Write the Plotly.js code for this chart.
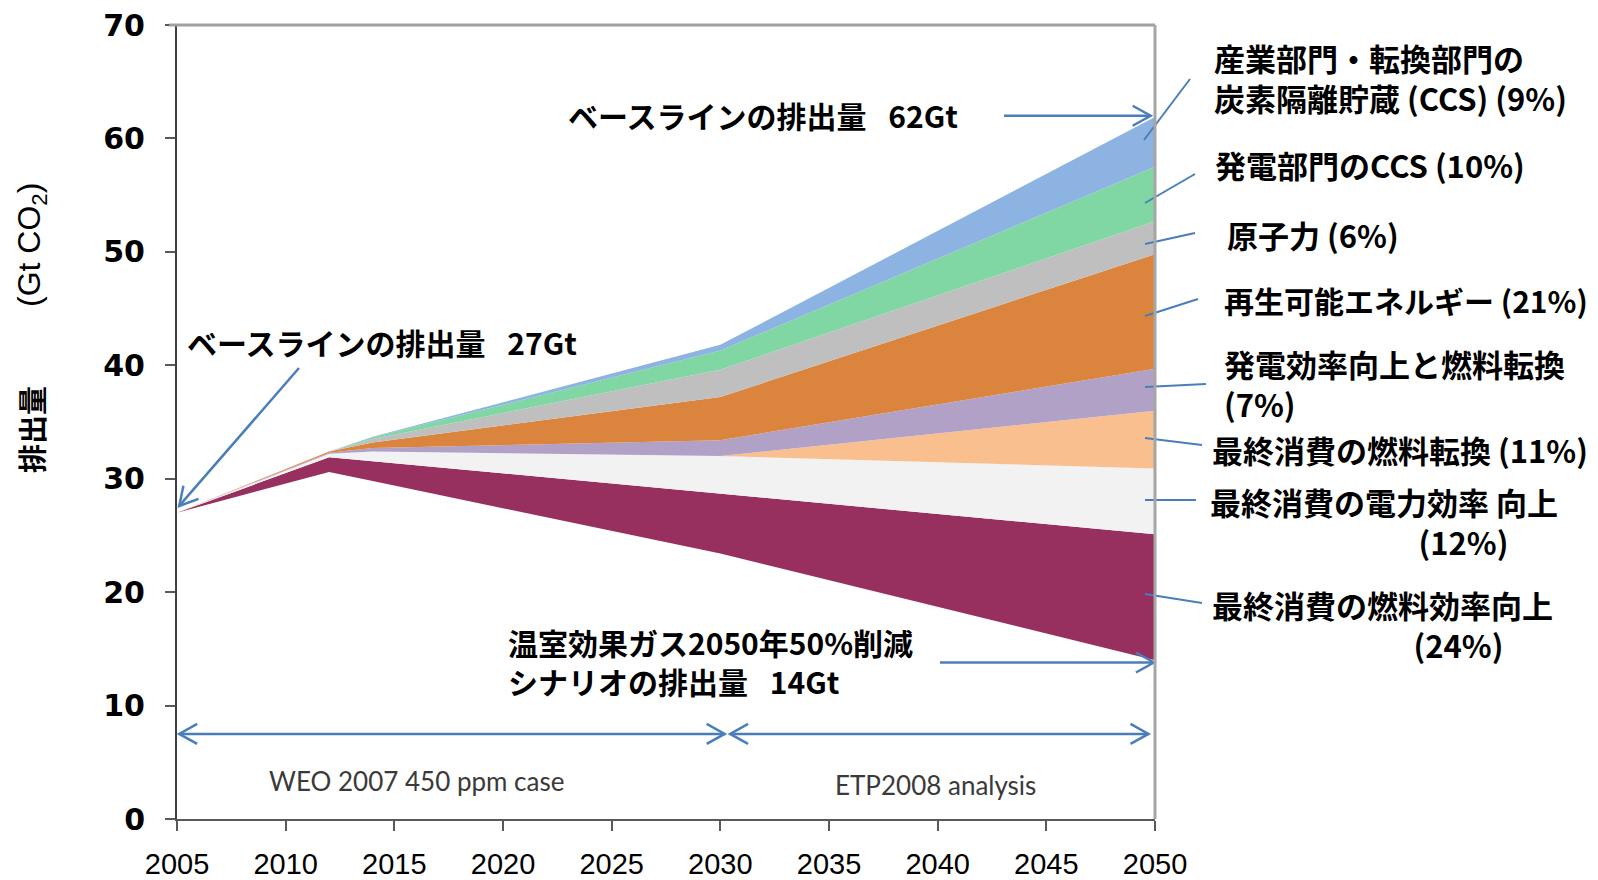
<!DOCTYPE html>
<html>
<head>
<meta charset="utf-8">
<script src="https://cdn.plot.ly/plotly-3.0.1.min.js"></script>
<style>
  html, body { margin: 0; padding: 0; background: #ffffff; }
  #chart { width: 1598px; height: 880px; }
</style>
</head>
<body>
<div id="chart"></div>
<script>
// Years at which the scenario paths change slope
const years = [2005, 2012, 2014, 2030, 2050];

// 50% reduction scenario (bottom edge of the wedges), Gt CO2
const scenario50 = [27.0, 30.6, 29.8, 23.4, 14.0];

// Wedge thicknesses, stacked from the scenario line up to the baseline (Gt CO2)
const endUseFuelEff    = [0, 1.3, 1.75, 5.3, 11.1];
const endUseElecEff    = [0, 0.3, 0.85, 3.3, 5.8];
const endUseFuelSwitch = [0, 0,   0,    0,   5.1];
const powerEffSwitch   = [0, 0.1, 0.3,  1.4, 3.7];
const renewables       = [0, 0.1, 0.5,  3.8, 10.1];
const nuclear          = [0, 0,   0.3,  2.4, 2.9];
const ccsPower         = [0, 0,   0.15, 1.7, 4.8];
const ccsIndustry      = [0, 0,   0.05, 0.5, 4.4];

const xTicks = [2005, 2010, 2015, 2020, 2025, 2030, 2035, 2040, 2045, 2050];
const yTicks = [0, 10, 20, 30, 40, 50, 60, 70];

const wedges = [
  { name: '最終消費の燃料効率向上', values: endUseFuelEff, color: '#98305F' },
  { name: '最終消費の電力効率向上', values: endUseElecEff, color: '#F2F2F2' },
  { name: '最終消費の燃料転換', values: endUseFuelSwitch, color: '#F9BF8F' },
  { name: '発電効率向上と燃料転換', values: powerEffSwitch, color: '#B2A1C7' },
  { name: '再生可能エネルギー', values: renewables, color: '#DB843D' },
  { name: '原子力', values: nuclear, color: '#BFBFBF' },
  { name: '発電部門のCCS', values: ccsPower, color: '#80D7A4' },
  { name: '産業部門・転換部門のCCS', values: ccsIndustry, color: '#8DB3E2' }
];

const traces = [{
  x: years, y: scenario50, type: 'scatter', mode: 'lines',
  stackgroup: 'abatement', line: { width: 0 },
  fillcolor: 'rgba(0,0,0,0)', hoverinfo: 'skip', showlegend: false
}].concat(wedges.map(w => ({
  x: years, y: w.values, type: 'scatter', mode: 'lines', name: w.name,
  stackgroup: 'abatement', line: { width: 0 },
  fillcolor: w.color, hoverinfo: 'skip', showlegend: false
})));

// Plot area geometry in pixels
const L = 177, T = 25, W = 978, H = 794;
const X0 = 2005, X1 = 2050, Y1 = 70;
const paperX = p => (p - L) / W;
const paperY = p => (T + H - p) / H;
const pxX = yr => L + (yr - X0) / (X1 - X0) * W;
const pxY = v => T + H - v / Y1 * H;

const ARROW = '#4A7EBB';
const shapes = [];

function segment(x0, y0, x1, y1, width) {
  shapes.push({
    type: 'line', xref: 'paper', yref: 'paper',
    x0: paperX(x0), y0: paperY(y0), x1: paperX(x1), y1: paperY(y1),
    line: { color: ARROW, width: width || 2.5 }
  });
}
function chevron(fx, fy, tx, ty) {
  const dx = tx - fx, dy = ty - fy, len = Math.hypot(dx, dy);
  const ux = dx / len, uy = dy / len, nx = -uy, ny = ux;
  const back = 18, half = 10;
  const a = [tx - back * ux + half * nx, ty - back * uy + half * ny];
  const b = [tx - back * ux - half * nx, ty - back * uy - half * ny];
  shapes.push({
    type: 'path', xref: 'paper', yref: 'paper',
    path: `M ${paperX(a[0])} ${paperY(a[1])} L ${paperX(tx)} ${paperY(ty)} L ${paperX(b[0])} ${paperY(b[1])}`,
    line: { color: ARROW, width: 2.5 }
  });
}
function arrow(x0, y0, x1, y1, both) {
  segment(x0, y0, x1, y1);
  chevron(x0, y0, x1, y1);
  if (both) chevron(x1, y1, x0, y0);
}

// Baseline and scenario call-outs
arrow(1004, pxY(62), pxX(2049.8), pxY(62));
arrow(299, 368, pxX(2005.1), pxY(27.6));
arrow(940, pxY(13.8), pxX(2049.95), pxY(13.8));
// Period spans
arrow(pxX(2005.1), pxY(7.5), pxX(2030.2), pxY(7.5), true);
arrow(pxX(2030.45), pxY(7.5), pxX(2049.7), pxY(7.5), true);

// Leader lines from wedge labels
const leaders = [
  [1190, 79, 1144, 140],
  [1195, 174, 1145, 203],
  [1195, 233, 1145, 244],
  [1198, 299, 1145, 316],
  [1206, 384, 1145, 387],
  [1202, 445, 1145, 438],
  [1196, 500, 1145, 500],
  [1202, 603, 1145, 594]
];
leaders.forEach(s => segment(s[0], s[1], s[2], s[3], 2));

// Frame: top and right edges in light grey
shapes.push({ type: 'line', xref: 'paper', yref: 'paper', x0: -0.008, y0: 1, x1: 1, y1: 1,
  line: { color: '#A0A0A0', width: 3 } });
shapes.push({ type: 'line', xref: 'paper', yref: 'paper', x0: 1, y0: 0, x1: 1, y1: 1,
  line: { color: '#A6A6A6', width: 3 } });

const JP_FAMILY = '"Noto Sans CJK JP", sans-serif';
const RIGHT = { family: JP_FAMILY, size: 31, color: '#000000', weight: 'bold' };
const RIGHT_SMALL = { family: JP_FAMILY, size: 30, color: '#000000', weight: 'bold' };
const LEFT = { family: JP_FAMILY, size: 30, color: '#000000', weight: 'bold' };
const NOTE = { family: 'Lato, sans-serif', size: 26, color: '#3A3A3A' };

function label(text, x, y, anchor, font) {
  return {
    text: text, xref: 'paper', yref: 'paper', x: paperX(x), y: paperY(y),
    xanchor: anchor || 'left', yanchor: 'middle', showarrow: false,
    font: font || RIGHT, align: 'left'
  };
}

// Indent for the percentage lines that sit under the middle of their label
const IND12 = '\u3000'.repeat(6) + '\u2002 ';
const IND24 = '\u3000'.repeat(6) + '\u2002';

const annotations = [
  label('産業部門・転換部門の<br>炭素隔離貯蔵 (CCS) (9%)', 1212, 78),
  label('発電部門のCCS (10%)', 1213, 164),
  label('原子力 (6%)', 1225, 235),
  label('再生可能エネルギー (21%)', 1222, 300, 'left', RIGHT_SMALL),
  label('発電効率向上と燃料転換<br>(7%)', 1222, 383),
  label('最終消費の燃料転換 (11%)', 1210, 449),
  label('最終消費の電力効率 向上<br>' + IND12 + '(12%)', 1208, 521),
  label('最終消費の燃料効率向上<br>' + IND24 + '(24%)', 1210, 624),
  label('ベースラインの排出量\u2002 62Gt', 566, 115, 'left', LEFT),
  label('ベースラインの排出量\u2002 27Gt', 185, 342, 'left', LEFT),
  label('温室効果ガス2050年50%削減<br>シナリオの排出量\u2002 14Gt', 506, 661, 'left', LEFT),
  label('WEO 2007 450 ppm case', 416, 781, 'center', NOTE),
  label('ETP2008 analysis', 935, 785, 'center', NOTE),
  Object.assign(label('排出量', 31, 430, 'center',
        { family: JP_FAMILY, size: 29, color: '#000000', weight: 'bold' }), { textangle: -90 }),
  Object.assign(label('(Gt CO<sub>2</sub>)', 31, 245, 'center',
        { family: '"Liberation Sans", Arial, sans-serif', size: 32, color: '#000000' }), { textangle: -90 })
];

const layout = {
  width: 1598, height: 880,
  margin: { l: L, r: 1598 - L - W, t: T, b: 880 - T - H, pad: 0 },
  paper_bgcolor: '#ffffff', plot_bgcolor: '#ffffff',
  showlegend: false,
  xaxis: {
    range: [X0, X1], tickvals: xTicks, ticktext: xTicks.map(String),
    ticks: 'outside', ticklen: 10, tickwidth: 2, tickcolor: '#595959',
    showline: true, linecolor: '#595959', linewidth: 2,
    showgrid: false, zeroline: false, ticklabelstandoff: 8,
    tickfont: { family: '"Liberation Sans", Arial, sans-serif', size: 29, color: '#000000' }
  },
  yaxis: {
    range: [0, Y1], tickvals: yTicks, ticktext: yTicks.map(String),
    ticks: 'outside', ticklen: 10, tickwidth: 2, tickcolor: '#595959',
    showline: true, linecolor: '#404040', linewidth: 2,
    showgrid: false, zeroline: false, ticklabelstandoff: 14,
    tickfont: { family: '"DejaVu Sans", sans-serif', size: 30, color: '#000000', weight: 'bold' }
  },
  shapes: shapes,
  annotations: annotations
};

Plotly.newPlot('chart', traces, layout, { staticPlot: true, displayModeBar: false });
</script>
</body>
</html>
